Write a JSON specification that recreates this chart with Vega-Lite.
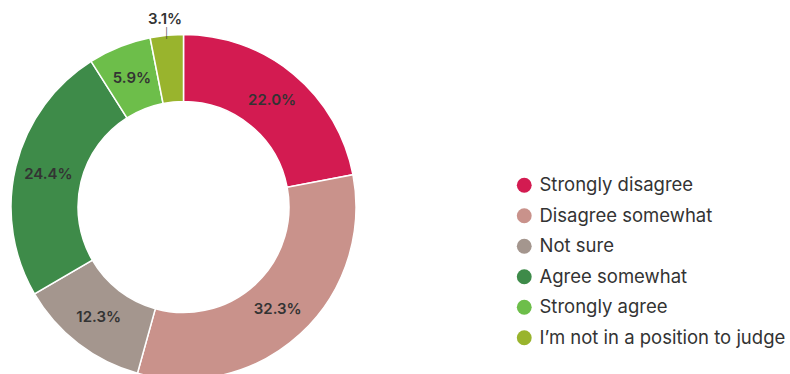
{
  "$schema": "https://vega.github.io/schema/vega-lite/v6.json",
  "width": 367,
  "height": 334,
  "autosize": {"type": "none"},
  "padding": {"left": 0, "top": 40, "right": 423, "bottom": 0},
  "background": "white",
  "config": {"view": {"stroke": null}, "font": "Inter"},
  "data": {
    "values": [
      {"answer": "Strongly disagree", "rank": 1, "pct": 0.220},
      {"answer": "Disagree somewhat", "rank": 2, "pct": 0.323},
      {"answer": "Not sure", "rank": 3, "pct": 0.123},
      {"answer": "Agree somewhat", "rank": 4, "pct": 0.244},
      {"answer": "Strongly agree", "rank": 5, "pct": 0.059},
      {"answer": "I’m not in a position to judge", "rank": 6, "pct": 0.031}
    ]
  },
  "encoding": {
    "theta": {"field": "pct", "type": "quantitative", "stack": true},
    "order": {"field": "rank", "type": "quantitative", "sort": "ascending"}
  },
  "layer": [
    {
      "mark": {"type": "arc", "outerRadius": 172.5, "innerRadius": 105.5, "stroke": "white", "strokeWidth": 1.5},
      "encoding": {
        "color": {
          "field": "answer",
          "type": "nominal",
          "scale": {
            "domain": ["Strongly disagree", "Disagree somewhat", "Not sure", "Agree somewhat", "Strongly agree", "I’m not in a position to judge"],
            "range": ["#D31B51", "#C9928B", "#A4968E", "#3E8B49", "#6DBE4A", "#99B42D"]
          },
          "legend": {
            "title": null,
            "orient": "none",
            "legendX": 515,
            "legendY": 136,
            "padding": 0,
            "symbolType": "circle",
            "symbolSize": 220,
            "symbolStrokeWidth": 0,
            "symbolOpacity": 1,
            "labelFont": "Inter",
            "labelFontSize": 18.5,
            "labelColor": "#333333",
            "labelOffset": 6,
            "labelLimit": 400,
            "rowPadding": 11.5
          }
        }
      }
    },
    {
      "mark": {"type": "text", "radius": 139, "fontSize": 15, "fontWeight": 600, "color": "#333333", "align": "center", "baseline": "middle"},
      "encoding": {
        "text": {"field": "pct", "type": "quantitative", "format": ".1%"},
        "opacity": {"condition": {"test": "datum.pct < 0.04", "value": 0}, "value": 1}
      }
    },
    {
      "mark": {"type": "text", "radius": 189, "fontSize": 15, "fontWeight": 600, "color": "#333333", "align": "center", "baseline": "middle"},
      "encoding": {
        "text": {"field": "pct", "type": "quantitative", "format": ".1%"},
        "opacity": {"condition": {"test": "datum.pct < 0.04", "value": 1}, "value": 0}
      }
    },
    {
      "mark": {"type": "text", "radius": 174, "fontSize": 10, "fontWeight": 300, "color": "#333333", "align": "center", "baseline": "middle"},
      "encoding": {
        "text": {"value": "|"},
        "opacity": {"condition": {"test": "datum.pct < 0.04", "value": 1}, "value": 0}
      }
    }
  ]
}
